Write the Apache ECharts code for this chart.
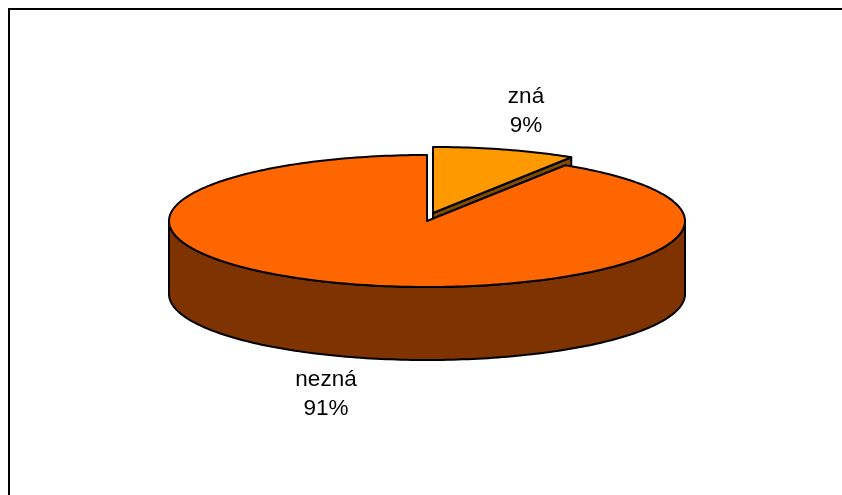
<!DOCTYPE html>
<html>
<head>
<meta charset="utf-8">
<style>html,body{margin:0;padding:0;background:#fff}#c{width:842px;height:495px}</style>
<script src="https://cdn.jsdelivr.net/npm/echarts@6/dist/echarts.min.js"></script>
</head>
<body>
<div id="c"></div>
<script>
const categories = ['zná', 'nezná'];
const values = [9, 91];
const topColors = ['#FF9900', '#FF6600'];
const sideColors = ['#7F4C00', '#7F3300'];

const C = { x: 427, y: 221, rx: 258, ry: 66, depth: 73 };
const explode = [{ dx: 6, dy: -8 }, { dx: 0, dy: 0 }];
const labelPos = [{ x: 526, y: 111.5 }, { x: 326, y: 394 }];
const total = values.reduce((a, b) => a + b, 0);
const LINE = { stroke: '#000', lineWidth: 2, lineJoin: 'round' };

function pt(cx, cy, a) { // a: clockwise radians from 12 o'clock
  return [cx + C.rx * Math.sin(a), cy - C.ry * Math.cos(a)];
}
function arc(cx, cy, a0, a1) {
  const n = Math.max(2, Math.ceil(Math.abs(a1 - a0) / 0.02));
  const out = [];
  for (let i = 0; i <= n; i++) out.push(pt(cx, cy, a0 + (a1 - a0) * i / n));
  return out;
}
function poly(points, fill, z2) {
  return { type: 'polygon', z2, shape: { points }, style: Object.assign({ fill }, LINE) };
}

function renderItem(params, api) {
  const i = params.dataIndex;
  const before = values.slice(0, i).reduce((a, b) => a + b, 0);
  const a0 = before / total * 2 * Math.PI;
  const a1 = (before + api.value(0)) / total * 2 * Math.PI;
  const cx = C.x + explode[i].dx, cy = C.y + explode[i].dy, d = C.depth;
  const children = [];
  const side = sideColors[i];

  // outer wall: only the part facing the viewer (between 90° and 270°)
  const f0 = Math.max(a0, Math.PI / 2), f1 = Math.min(a1, Math.PI * 1.5);
  if (f1 > f0) {
    const up = arc(cx, cy, f0, f1);
    const down = arc(cx, cy + d, f1, f0);
    children.push(poly(up.concat(down), side, 1));
  }
  // cut wall on the clockwise end of a slice that faces the viewer
  if (a1 < Math.PI) {
    const t = pt(cx, cy, a1);
    children.push(poly([[cx, cy], t, [t[0], t[1] + d], [cx, cy + d]], side, 1));
  }
  // top face
  children.push(poly([[cx, cy]].concat(arc(cx, cy, a0, a1)), topColors[i], 2));
  // label
  children.push({
    type: 'text', z2: 3,
    style: {
      x: labelPos[i].x, y: labelPos[i].y,
      text: categories[i] + '\n' + Math.round(api.value(0) / total * 100) + '%',
      fill: '#000', align: 'center', verticalAlign: 'middle',
      font: '22.5px "Liberation Sans", Arial, sans-serif', lineHeight: 29
    }
  });
  return { type: 'group', children };
}

const chart = echarts.init(document.getElementById('c'), null, { renderer: 'canvas' });
chart.setOption({
  animation: false,
  backgroundColor: '#fff',
  graphic: [
    { type: 'polyline', silent: true, shape: { points: [[9, 495], [9, 9], [842, 9]] },
      style: { stroke: '#000', lineWidth: 2, fill: null } }
  ],
  series: [{
    type: 'custom',
    coordinateSystem: 'none',
    silent: true,
    renderItem,
    data: values.map((v, i) => ({ name: categories[i], value: [v] }))
  }]
});
</script>
</body>
</html>
